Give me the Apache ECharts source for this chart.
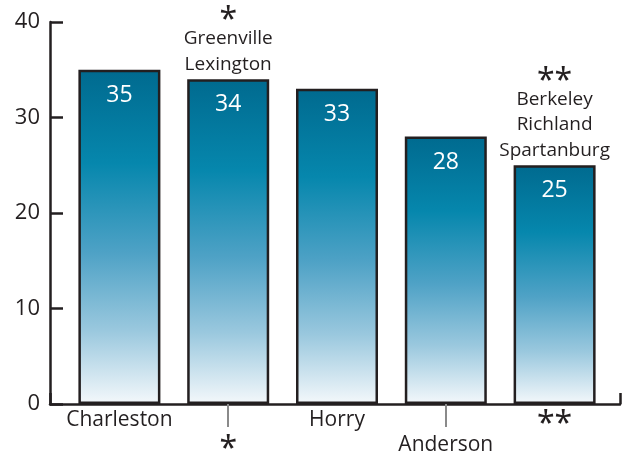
<!DOCTYPE html>
<html><head><meta charset="utf-8">
<script src="https://cdn.jsdelivr.net/npm/echarts@6/dist/echarts.min.js"></script>
<style>html,body{margin:0;padding:0;background:#fff}#c{width:632px;height:456px}</style>
</head><body><div id="c"></div>
<script>
var categories = ['Charleston', '*', 'Horry', 'Anderson', '**'];
var values = [35, 34, 33, 28, 25];
var noteMarks = ['', '*', '', '', '**'];
var noteNames = [[], ['Greenville', 'Lexington'], [], [], ['Berkeley', 'Richland', 'Spartanburg']];
var yTicks = [0, 10, 20, 30, 40];

var FONT = 'Open Sans';
var MARKFONT = 'Noto Sans';
var INK = '#231f20';
var chart = echarts.init(document.getElementById('c'));
var grad = new echarts.graphic.LinearGradient(0, 0, 0, 1, [
  {offset: 0, color: '#006a8f'},
  {offset: 0.28, color: '#0687ad'},
  {offset: 0.55, color: '#4fa2c6'},
  {offset: 0.78, color: '#9ac8de'},
  {offset: 1, color: '#f4f8fb'}
]);
chart.setOption({
  animation: false,
  textStyle: {fontFamily: FONT},
  grid: [
    {left: 65, right: 23, top: 22, bottom: 52, containLabel: false, outerBoundsMode: 'none'},
    {left: 50, right: 12, top: 22, bottom: 52, containLabel: false, outerBoundsMode: 'none'}
  ],
  xAxis: [
    {type: 'category', gridIndex: 0, data: categories,
     axisLine: {show: false},
     axisTick: {show: true, alignWithLabel: true, length: 23, interval: function (i) { return i % 2 === 1; },
       lineStyle: {color: '#8a8a8a', width: 2}},
     axisLabel: {interval: 0, margin: 4, color: INK, fontSize: 21,
       formatter: function (v, i) {
         var t = v.indexOf('*') === 0 ? '{m|' + v + '}' : '{n|' + v + '}';
         return i % 2 === 1 ? '{s|}\n' + t : t;
       },
       rich: {n: {fontSize: 21, color: INK, lineHeight: 25, fontFamily: FONT},
              m: {fontSize: 32, color: INK, lineHeight: 25, fontFamily: MARKFONT, padding: [9, 0, 0, 0]},
              s: {lineHeight: 25}}}},
    {type: 'value', gridIndex: 1, min: 0, max: 1, interval: 1,
     axisLine: {show: true, lineStyle: {color: INK, width: 2.5}},
     axisTick: {show: true, inside: true, length: 11, lineStyle: {color: INK, width: 2.5}},
     axisLabel: {show: false}, splitLine: {show: false}}
  ],
  yAxis: [
    {type: 'value', gridIndex: 0, min: 0, max: 40, interval: 10, show: false},
    {type: 'value', gridIndex: 1, min: yTicks[0], max: yTicks[yTicks.length - 1], interval: 10,
     axisLine: {show: true, lineStyle: {color: INK, width: 2.5}},
     axisTick: {show: true, inside: true, length: 13, lineStyle: {color: INK, width: 2.5}},
     axisLabel: {color: INK, fontSize: 22, margin: 10, fontFamily: FONT},
     splitLine: {show: false}}
  ],
  series: [
    {type: 'bar', xAxisIndex: 0, yAxisIndex: 0, data: values, barWidth: 82,
     itemStyle: {color: grad, borderColor: INK, borderWidth: 2.5},
     label: {show: true, position: 'insideTop', distance: 14, color: '#ffffff', fontSize: 23, fontFamily: FONT}},
    {type: 'scatter', xAxisIndex: 0, yAxisIndex: 0, symbolSize: 0, silent: true,
     data: values.map(function (v, i) { return noteMarks[i] ? v : null; }),
     label: {show: true, position: 'top', distance: 2, color: INK, opacity: 1,
       formatter: function (p) {
         var i = p.dataIndex;
         return ['{m|' + noteMarks[i] + '}'].concat(noteNames[i].map(function (n) { return '{n|' + n + '}'; })).join('\n');
       },
       rich: {n: {fontSize: 19, color: INK, lineHeight: 25.5, fontFamily: FONT, fontWeight: 500},
              m: {fontSize: 32, color: INK, lineHeight: 22, fontFamily: MARKFONT, padding: [10, 0, -2, 0]}}}}
  ]
});
</script></body></html>
